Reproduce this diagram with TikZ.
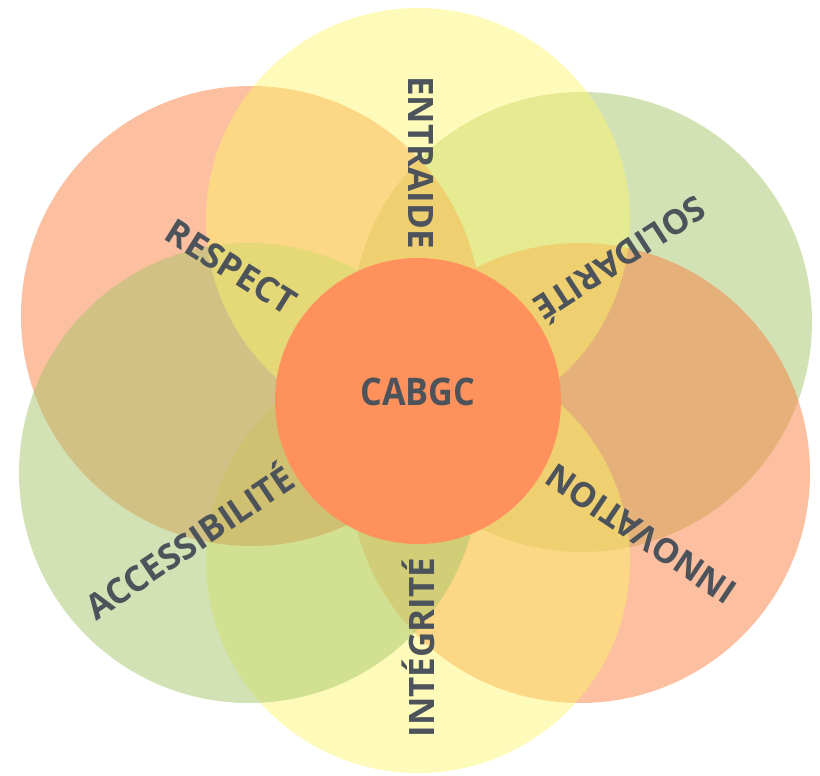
\documentclass[tikz,border=0pt]{standalone}
\usepackage{fontspec}
\setmainfont{Open Sans}
\definecolor{cyel}{RGB}{253,246,102}
\definecolor{cred}{RGB}{249,127,65}
\definecolor{cgrn}{RGB}{167,197,105}
\definecolor{ccen}{RGB}{254,145,92}
\definecolor{ctxt}{RGB}{77,83,90}
\tikzset{
  yelpetal/.style={fill=cyel, fill opacity=0.45},
  redpetal/.style={fill=cred, fill opacity=0.5},
  grnpetal/.style={fill=cgrn, fill opacity=0.5},
  lbl/.style={text=ctxt, font=\bfseries\fontsize{35}{35}\selectfont, inner sep=0pt, text height=25pt, text depth=0pt},
  lblsm/.style={lbl, font=\bfseries\fontsize{34}{34}\selectfont, text height=24.3pt},
  hub/.style={text=ctxt, font=\bfseries\fontsize{38}{38}\selectfont, inner sep=0pt, text height=27pt, text depth=0pt}
}
\begin{document}
\begin{tikzpicture}[x=1pt,y=-1pt]
\useasboundingbox (0,0) rectangle (820,776);
% petals (drawing order matters for the blended colours)
\fill[grnpetal] (582,322) circle[radius=230];
\fill[redpetal] (580,473) circle[radius=230];
\fill[yelpetal] (418,561) circle[radius=212];
\fill[redpetal] (251,316) circle[radius=230];
\fill[grnpetal] (249,473) circle[radius=230];
\fill[yelpetal] (418,220) circle[radius=212];
% centre
\fill[ccen] (418,401) circle[radius=143];
% labels
\node[hub] (cabgc) at (418,392) {\scalebox{0.9}[1]{CABGC}};
\node[lbl, rotate=-90] (entraide) at (420.5,162.5) {ENTRAIDE};
\node[lbl, rotate=90] (integrite) at (421.5,647.5) {INTÉGRITÉ};
\node[lbl, rotate=-32] (respect) at (231,267) {RESPECT};
\node[lblsm, rotate=213] (solidarite) at (620,258) {SOLIDARITÉ};
\node[lblsm, rotate=146] (innovation) at (641,534) {INNOVATION};
\node[lbl, rotate=34] (accessibilite) at (190,543) {ACCESSIBILITÉ};
\end{tikzpicture}
\end{document}
